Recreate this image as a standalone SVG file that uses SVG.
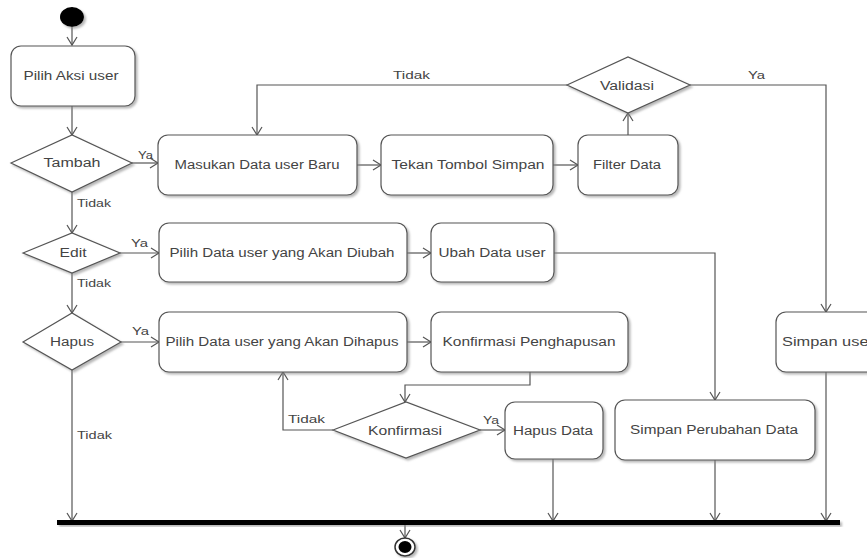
<svg xmlns="http://www.w3.org/2000/svg" width="867" height="558" viewBox="0 0 867 558">
  <defs>
    <filter id="shadow" x="-10%" y="-10%" width="130%" height="140%">
      <feDropShadow dx="2" dy="2" stdDeviation="1.2" flood-color="#888" flood-opacity="0.6"/>
    </filter>
    <marker id="arrow" markerUnits="userSpaceOnUse" markerWidth="14" markerHeight="14" refX="10" refY="7" orient="auto">
      <path d="M2,2 L10,7 L2,12" fill="none" stroke="#555" stroke-width="1.2"/>
    </marker>
  </defs>
  <style>
    .act { fill: #fff; stroke: #555; stroke-width: 1.2; filter: url(#shadow); }
    .dec { fill: #fff; stroke: #555; stroke-width: 1.2; filter: url(#shadow); }
    .lbl { font-family: "Liberation Sans", Arial, sans-serif; font-size: 12px; fill: #444; text-anchor: middle; dominant-baseline: central; }
    .edge { fill: none; stroke: #555; stroke-width: 1.2; }
    .arr { marker-end: url(#arrow); }
    .guard { font-family: "Liberation Sans", Arial, sans-serif; font-size: 11px; fill: #444; dominant-baseline: central; }
  </style>

  <rect width="867" height="558" fill="#fff"/>

  <!-- connectors -->
  <g id="connectors">
    <path class="edge arr" d="M72,27 V45"/>
    <path class="edge arr" d="M72,106 V135"/>
    <path class="edge arr" d="M132,163 H158"/>
    <path class="edge arr" d="M72,192 V233"/>
    <path class="edge arr" d="M120,253 H159"/>
    <path class="edge arr" d="M72,273 V313"/>
    <path class="edge arr" d="M121,342 H159"/>
    <path class="edge arr" d="M72,370 V521"/>
    <path class="edge arr" d="M357,165 H381"/>
    <path class="edge arr" d="M553,165 H578"/>
    <path class="edge arr" d="M628,135 V113"/>
    <path class="edge arr" d="M567,85 H257 V135"/>
    <path class="edge arr" d="M690,85 H826 V312"/>
    <path class="edge arr" d="M407,253 H431"/>
    <path class="edge arr" d="M554,253 H715 V400"/>
    <path class="edge arr" d="M407,342 H431"/>
    <path class="edge arr" d="M530,372 V385 H405 V402"/>
    <path class="edge arr" d="M333,430 H283 V372"/>
    <path class="edge arr" d="M480,430 H505"/>
    <path class="edge arr" d="M553,459 V521"/>
    <path class="edge arr" d="M715,460 V521"/>
    <path class="edge arr" d="M826,372 V521"/>
    <path class="edge arr" d="M405,525 V538"/>

    <text class="guard" x="393" y="75" textLength="37" lengthAdjust="spacingAndGlyphs">Tidak</text>
    <text class="guard" x="748" y="75" textLength="17" lengthAdjust="spacingAndGlyphs">Ya</text>
    <text class="guard" x="138" y="155" textLength="15" lengthAdjust="spacingAndGlyphs">Ya</text>
    <text class="guard" x="77" y="203" textLength="34" lengthAdjust="spacingAndGlyphs">Tidak</text>
    <text class="guard" x="131" y="243" textLength="17" lengthAdjust="spacingAndGlyphs">Ya</text>
    <text class="guard" x="77" y="283" textLength="34" lengthAdjust="spacingAndGlyphs">Tidak</text>
    <text class="guard" x="132" y="331" textLength="17" lengthAdjust="spacingAndGlyphs">Ya</text>
    <text class="guard" x="77" y="435" textLength="35" lengthAdjust="spacingAndGlyphs">Tidak</text>
    <text class="guard" x="288" y="419" textLength="37" lengthAdjust="spacingAndGlyphs">Tidak</text>
    <text class="guard" x="483" y="420" textLength="16" lengthAdjust="spacingAndGlyphs">Ya</text>
  </g>

  <!-- start -->
  <g id="start">
    <ellipse cx="72" cy="17" rx="12" ry="10" fill="#000" filter="url(#shadow)"/>
  </g>

  <g id="pilih-aksi">
    <rect class="act" x="11" y="46" width="124" height="60" rx="10"/>
    <text class="lbl" x="71" y="76" textLength="95" lengthAdjust="spacingAndGlyphs">Pilih Aksi user</text>
  </g>

  <g id="tambah">
    <polygon class="dec" points="11,163 72,135 132,163 72,192"/>
    <text class="lbl" x="72" y="163" textLength="57" lengthAdjust="spacingAndGlyphs">Tambah</text>
  </g>

  <g id="edit">
    <polygon class="dec" points="23,253 72,233 120,253 72,273"/>
    <text class="lbl" x="73" y="253" textLength="27" lengthAdjust="spacingAndGlyphs">Edit</text>
  </g>

  <g id="hapus">
    <polygon class="dec" points="23,342 72,313 121,342 72,370"/>
    <text class="lbl" x="72" y="342" textLength="44" lengthAdjust="spacingAndGlyphs">Hapus</text>
  </g>

  <g id="masukan-data">
    <rect class="act" x="158" y="135" width="199" height="60" rx="10"/>
    <text class="lbl" x="257" y="165" textLength="165" lengthAdjust="spacingAndGlyphs">Masukan Data user Baru</text>
  </g>

  <g id="tekan-simpan">
    <rect class="act" x="381" y="135" width="172" height="60" rx="10"/>
    <text class="lbl" x="468" y="165" textLength="153" lengthAdjust="spacingAndGlyphs">Tekan Tombol Simpan</text>
  </g>

  <g id="filter-data">
    <rect class="act" x="578" y="135" width="100" height="60" rx="10"/>
    <text class="lbl" x="627" y="165" textLength="68" lengthAdjust="spacingAndGlyphs">Filter Data</text>
  </g>

  <g id="validasi">
    <polygon class="dec" points="567,85 628,57 690,85 628,113"/>
    <text class="lbl" x="627" y="86" textLength="54" lengthAdjust="spacingAndGlyphs">Validasi</text>
  </g>

  <g id="pilih-diubah">
    <rect class="act" x="159" y="223" width="248" height="59" rx="10"/>
    <text class="lbl" x="282" y="253" textLength="225" lengthAdjust="spacingAndGlyphs">Pilih Data user yang Akan Diubah</text>
  </g>

  <g id="ubah-data">
    <rect class="act" x="431" y="223" width="123" height="59" rx="10"/>
    <text class="lbl" x="492" y="253" textLength="107" lengthAdjust="spacingAndGlyphs">Ubah Data user</text>
  </g>

  <g id="pilih-dihapus">
    <rect class="act" x="159" y="312" width="248" height="60" rx="10"/>
    <text class="lbl" x="282" y="342" textLength="233" lengthAdjust="spacingAndGlyphs">Pilih Data user yang Akan Dihapus</text>
  </g>

  <g id="konfirmasi-penghapusan">
    <rect class="act" x="431" y="312" width="197" height="60" rx="10"/>
    <text class="lbl" x="529" y="342" textLength="173" lengthAdjust="spacingAndGlyphs">Konfirmasi Penghapusan</text>
  </g>

  <g id="simpan-user">
    <rect class="act" x="776" y="312" width="110" height="60" rx="10"/>
    <text class="lbl" x="782" y="342" text-anchor="start" style="text-anchor:start" textLength="92" lengthAdjust="spacingAndGlyphs">Simpan user</text>
  </g>

  <g id="konfirmasi">
    <polygon class="dec" points="333,430 406,402 480,430 406,458"/>
    <text class="lbl" x="405" y="431" textLength="74" lengthAdjust="spacingAndGlyphs">Konfirmasi</text>
  </g>

  <g id="hapus-data">
    <rect class="act" x="505" y="402" width="98" height="57" rx="10"/>
    <text class="lbl" x="553" y="431" textLength="80" lengthAdjust="spacingAndGlyphs">Hapus Data</text>
  </g>

  <g id="simpan-perubahan">
    <rect class="act" x="615" y="400" width="200" height="60" rx="10"/>
    <text class="lbl" x="714" y="430" textLength="168" lengthAdjust="spacingAndGlyphs">Simpan Perubahan Data</text>
  </g>

  <!-- join bar -->
  <g id="join">
    <rect x="57" y="520" width="783" height="5" fill="#000" filter="url(#shadow)"/>
  </g>

  <!-- end -->
  <g id="end">
    <ellipse cx="405" cy="547" rx="10" ry="9" fill="#fff" stroke="#333" stroke-width="1.5" filter="url(#shadow)"/>
    <ellipse cx="405" cy="547" rx="6.5" ry="6" fill="#000"/>
  </g>
</svg>
